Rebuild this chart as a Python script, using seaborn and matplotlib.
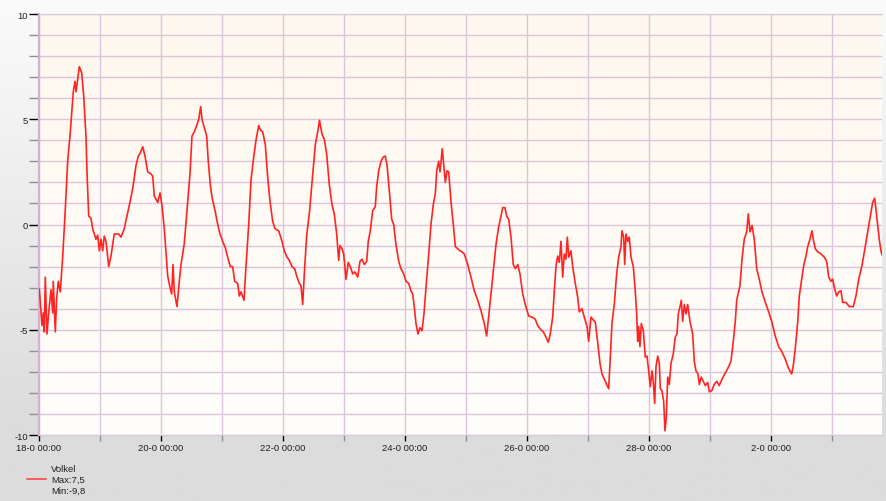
import numpy as np
import pandas as pd
import matplotlib.pyplot as plt
import seaborn as sns
from matplotlib.lines import Line2D
from matplotlib.ticker import MultipleLocator, FixedLocator, FixedFormatter

# Volkel temperature, days since "18-0 00:00"
days = [0.005, 0.033, 0.049, 0.070, 0.087, 0.103, 0.131, 0.159, 0.197, 0.225,
        0.234, 0.267, 0.290, 0.316, 0.349, 0.389, 0.431, 0.470, 0.508, 0.541,
        0.562, 0.590, 0.607, 0.634, 0.661, 0.700, 0.733, 0.770, 0.787, 0.815,
        0.852, 0.880, 0.907, 0.934, 0.962, 0.989, 1.016, 1.044, 1.070, 1.098,
        1.143, 1.180, 1.234, 1.307, 1.344, 1.398, 1.426, 1.480, 1.536, 1.590,
        1.628, 1.661, 1.700, 1.738, 1.782, 1.836, 1.864, 1.890, 1.918, 1.946,
        1.984, 2.016, 2.054, 2.110, 2.148, 2.175, 2.197, 2.218, 2.262, 2.300,
        2.328, 2.382, 2.438, 2.475, 2.508, 2.546, 2.585, 2.618, 2.651, 2.672,
        2.710, 2.749, 2.775, 2.808, 2.836, 2.890, 2.930, 2.967, 3.011, 3.054,
        3.093, 3.136, 3.175, 3.208, 3.257, 3.284, 3.311, 3.361, 3.393, 3.438,
        3.475, 3.520, 3.557, 3.602, 3.628, 3.667, 3.710, 3.749, 3.787, 3.831,
        3.869, 3.930, 3.984, 4.021, 4.066, 4.103, 4.148, 4.192, 4.225, 4.267,
        4.295, 4.323, 4.356, 4.389, 4.431, 4.487, 4.530, 4.569, 4.598, 4.639,
        4.677, 4.716, 4.759, 4.803, 4.841, 4.880, 4.913, 4.934, 4.967, 4.995,
        5.033, 5.070, 5.103, 5.143, 5.180, 5.225, 5.262, 5.295, 5.333, 5.372,
        5.398, 5.431, 5.470, 5.513, 5.536, 5.569, 5.607, 5.644, 5.677, 5.705,
        5.743, 5.782, 5.815, 5.852, 5.897, 5.934, 5.979, 6.016, 6.061, 6.098,
        6.126, 6.152, 6.180, 6.213, 6.246, 6.279, 6.311, 6.344, 6.389, 6.426,
        6.464, 6.497, 6.520, 6.552, 6.574, 6.595, 6.611, 6.634, 6.661, 6.689,
        6.716, 6.754, 6.792, 6.825, 6.864, 6.902, 6.934, 6.972, 7.028, 7.082,
        7.136, 7.192, 7.246, 7.300, 7.339, 7.382, 7.438, 7.492, 7.536, 7.574,
        7.602, 7.639, 7.667, 7.700, 7.738, 7.775, 7.808, 7.848, 7.885, 7.930,
        7.972, 8.028, 8.082, 8.136, 8.175, 8.230, 8.267, 8.311, 8.349, 8.382,
        8.421, 8.448, 8.475, 8.503, 8.530, 8.557, 8.585, 8.611, 8.639, 8.661,
        8.684, 8.721, 8.749, 8.792, 8.831, 8.857, 8.902, 8.939, 8.984, 9.011,
        9.049, 9.077, 9.120, 9.157, 9.197, 9.230, 9.267, 9.307, 9.339, 9.361,
        9.393, 9.431, 9.470, 9.503, 9.541, 9.557, 9.585, 9.602, 9.623, 9.651,
        9.677, 9.705, 9.743, 9.775, 9.798, 9.815, 9.831, 9.852, 9.874, 9.907,
        9.939, 9.967, 9.995, 10.021, 10.049, 10.070, 10.093, 10.115, 10.143, 10.169,
        10.185, 10.213, 10.241, 10.262, 10.284, 10.307, 10.333, 10.361, 10.398, 10.431,
        10.459, 10.480, 10.508, 10.530, 10.552, 10.579, 10.607, 10.634, 10.672, 10.716,
        10.743, 10.770, 10.803, 10.825, 10.857, 10.890, 10.923, 10.962, 10.989, 11.028,
        11.070, 11.110, 11.152, 11.197, 11.241, 11.290, 11.344, 11.382, 11.415, 11.438,
        11.492, 11.525, 11.562, 11.602, 11.628, 11.656, 11.689, 11.726, 11.766, 11.808,
        11.852, 11.907, 11.962, 12.016, 12.070, 12.126, 12.180, 12.234, 12.290, 12.339,
        12.366, 12.398, 12.438, 12.464, 12.503, 12.536, 12.574, 12.602, 12.639, 12.672,
        12.693, 12.726, 12.766, 12.820, 12.874, 12.913, 12.946, 12.984, 13.011, 13.044,
        13.077, 13.110, 13.148, 13.175, 13.230, 13.284, 13.349, 13.393, 13.438, 13.492,
        13.557, 13.611, 13.667, 13.700, 13.733, 13.775, 13.803, 13.820]

temps = [-3.06, -4.16, -4.8, -4.2, -5.1, -2.5, -5.2, -4.2, -3.1, -4.2,
         -2.7, -5.1, -3.5, -2.7, -3.2, -1.5, 0.7, 3.0, 4.2, 5.5,
         6.3, 6.8, 6.3, 6.9, 7.5, 7.2, 6.1, 4.2, 2.5, 0.4,
         0.3, -0.2, -0.45, -0.7, -0.5, -1.25, -0.7, -1.25, -0.55, -0.8,
         -2.0, -1.5, -0.45, -0.45, -0.6, -0.2, 0.2, 0.9, 1.7, 2.8,
         3.25, 3.4, 3.7, 3.25, 2.5, 2.4, 2.3, 1.35, 1.2, 1.05,
         1.5, 0.9, -0.2, -2.45, -3.0, -3.3, -1.9, -3.2, -3.9, -2.7,
         -1.9, -0.9, 1.1, 2.4, 4.2, 4.4, 4.7, 5.0, 5.6, 5.0,
         4.6, 4.2, 3.0, 1.9, 1.3, 0.6, 0.0, -0.45, -0.8, -1.1,
         -1.55, -2.0, -2.0, -2.7, -2.8, -3.4, -3.2, -3.6, -2.0, 0.0,
         2.1, 3.2, 4.0, 4.7, 4.5, 4.4, 3.8, 2.25, 1.1, 0.15,
         -0.2, -0.3, -0.8, -1.25, -1.55, -1.7, -2.0, -2.1, -2.45, -2.8,
         -2.9, -3.8, -2.0, -0.5, 0.5, 2.4, 3.8, 4.4, 4.95, 4.3,
         4.05, 3.35, 1.9, 0.95, 0.5, -0.45, -1.7, -1.0, -1.15, -1.4,
         -2.6, -1.8, -2.0, -2.35, -2.25, -2.5, -1.75, -1.65, -1.9, -1.75,
         -0.8, -0.3, 0.65, 0.85, 1.8, 2.55, 3.0, 3.2, 3.25, 2.85,
         1.6, 0.25, 0.0, -0.95, -1.75, -2.1, -2.35, -2.7, -2.8, -3.15,
         -3.3, -3.9, -4.7, -5.2, -4.9, -5.05, -4.25, -3.0, -1.4, 0.0,
         0.95, 1.45, 2.55, 3.0, 2.5, 3.1, 3.6, 2.85, 2.0, 2.55,
         2.5, 1.1, 0.0, -1.05, -1.15, -1.25, -1.3, -1.4, -1.9, -2.5,
         -3.15, -3.6, -4.1, -4.7, -5.3, -4.1, -2.5, -0.95, -0.1, 0.4,
         0.8, 0.8, 0.4, 0.25, -0.6, -1.9, -2.1, -1.9, -2.35, -3.3,
         -3.8, -4.35, -4.4, -4.5, -4.8, -5.0, -5.1, -5.35, -5.6, -5.2,
         -4.4, -3.15, -2.0, -1.5, -1.8, -0.8, -2.5, -1.4, -1.65, -0.6,
         -1.55, -1.25, -2.0, -2.8, -3.45, -4.15, -4.0, -4.4, -4.85, -5.55,
         -4.4, -4.5, -4.65, -5.55, -6.6, -7.1, -7.35, -7.6, -7.8, -6.6,
         -4.7, -3.8, -2.35, -1.55, -1.05, -0.3, -0.6, -1.9, -0.45, -0.8,
         -0.6, -1.55, -2.0, -3.15, -4.25, -5.55, -4.85, -5.8, -4.7, -5.05,
         -6.3, -6.25, -6.95, -7.7, -6.95, -7.45, -8.5, -6.75, -6.25, -6.6,
         -7.8, -7.9, -8.4, -9.8, -9.15, -7.25, -7.6, -6.6, -6.15, -5.35,
         -5.2, -4.25, -3.9, -3.6, -4.6, -3.8, -4.25, -3.8, -4.6, -5.2,
         -6.5, -6.95, -7.1, -7.6, -7.25, -7.45, -7.65, -7.5, -7.95, -7.9,
         -7.6, -7.45, -7.65, -7.35, -7.1, -6.85, -6.5, -5.55, -4.6, -3.6,
         -2.9, -1.65, -0.7, -0.35, 0.5, -0.35, -0.05, -0.7, -2.1, -2.6,
         -3.2, -3.7, -4.15, -4.65, -5.3, -5.8, -6.05, -6.4, -6.85, -7.1,
         -6.7, -5.9, -4.65, -3.4, -2.6, -1.95, -1.5, -1.05, -0.7, -0.3,
         -0.7, -1.15, -1.3, -1.4, -1.55, -1.75, -2.5, -2.7, -2.6, -3.05,
         -3.4, -3.2, -3.15, -3.7, -3.7, -3.9, -3.9, -3.4, -2.6, -1.95,
         -0.85, 0.1, 1.05, 1.25, 0.4, -0.7, -1.25, -1.45]

x_tick_days = [0, 2, 4, 6, 8, 10, 12]
x_tick_labels = ['18-0 00:00', '20-0 00:00', '22-0 00:00', '24-0 00:00',
                 '26-0 00:00', '28-0 00:00', '2-0 00:00']
y_ticks = [-10, -5, 0, 5, 10]
legend_lines = ['Volkel', 'Max:7,5', 'Min:-9,8']

df = pd.DataFrame({'day': days, 'temp': temps})

sns.set_style('white')
plt.rcParams['font.family'] = ['Liberation Sans', 'DejaVu Sans']
plt.rcParams['axes.unicode_minus'] = False

fig = plt.figure(figsize=(8.87, 5.02), dpi=100)

# grey figure background, lighter at the top
bg = fig.add_axes([0, 0, 1, 1], zorder=-10)
grad = np.linspace(0, 1, 256).reshape(-1, 1)
bg.imshow(grad, aspect='auto', cmap=sns.blend_palette(['#fbfbfb', '#dcdcdc'], as_cmap=True),
          extent=[0, 1, 0, 1], vmin=0, vmax=0.85)
bg.axis('off')

ax = fig.add_axes([39 / 887, 1 - 436 / 502, 843 / 887, 421 / 502])
ax.imshow(grad, aspect='auto', cmap=sns.blend_palette(['#fff8ee', '#fffefb'], as_cmap=True),
          extent=[0, 1, 0, 1], transform=ax.transAxes, zorder=0)

sns.lineplot(data=df, x='day', y='temp', ax=ax, color='#ff2424', linewidth=1.2,
             estimator=None, zorder=3)

grid_col = '#dcc4dc'
ax.set_xlim(0, 13.82)
ax.set_ylim(-10, 10)
ax.xaxis.set_major_locator(FixedLocator(x_tick_days))
ax.xaxis.set_major_formatter(FixedFormatter(x_tick_labels))
ax.xaxis.set_minor_locator(MultipleLocator(1))
ax.yaxis.set_major_locator(FixedLocator(y_ticks))
ax.yaxis.set_minor_locator(MultipleLocator(1))
ax.grid(True, which='both', color=grid_col, linewidth=1.0, zorder=1)
for gl in ax.get_xgridlines() + ax.get_ygridlines():
    gl.set_zorder(1)

ax.tick_params(axis='both', which='both', direction='out', labelsize=6.8,
               labelcolor='#202020', left=True, bottom=True)
ax.tick_params(axis='y', which='major', length=7, width=1, color='#000000', pad=1)
ax.tick_params(axis='y', which='minor', length=7, width=1, color='#909090')
ax.tick_params(axis='x', which='major', length=4.5, width=1, color='#000000', pad=1.5)
ax.tick_params(axis='x', which='minor', length=4.5, width=1, color='#909090')
ax.set_xlabel('')
ax.set_ylabel('')

for side in ['top', 'bottom']:
    ax.spines[side].set_color(grid_col)
ax.spines['left'].set_color('#d2b2d2')
ax.spines['left'].set_linewidth(1.6)
ax.spines['right'].set_visible(False)

# legend under the plot
fig.lines.append(Line2D([27 / 887, 46 / 887], [1 - 480 / 502] * 2,
                        transform=fig.transFigure, color='#ff5050', linewidth=1.3))
for i, txt in enumerate(legend_lines):
    fig.text(51 / 887, 1 - (470 + 10.5 * i) / 502, txt, fontsize=6.8,
             color='#202020', va='center', ha='left')

plt.savefig('out.png', dpi=100)
